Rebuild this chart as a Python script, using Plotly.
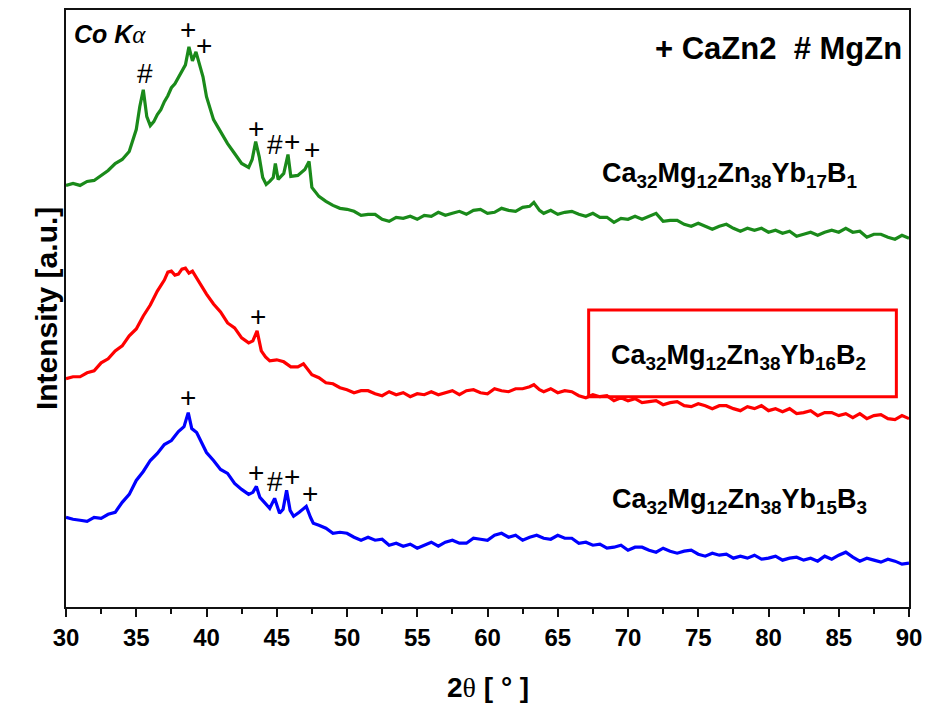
import plotly.graph_objects as go

# ---- diffraction patterns (2theta in degrees, intensity in a.u., stacked) ----
two_theta_b1 = [30.0, 30.5, 31.0, 31.5, 32.0, 32.5, 33.0, 33.5, 34.0, 34.5, 35.0, 35.25, 35.5, 35.75,
                36.0, 36.25, 36.5, 36.75, 37.0, 37.25, 37.5, 37.75, 38.0, 38.25, 38.5, 38.75, 39.0,
                39.25, 39.5, 39.75, 40.0, 40.25, 40.5, 40.75, 41.0, 41.5, 42.0, 42.5, 43.0, 43.25,
                43.5, 43.75, 44.0, 44.25, 44.5, 44.75, 44.9, 45.1, 45.5, 45.8, 46.0, 46.5, 47.0,
                47.3, 47.5, 48.0, 48.5, 49.0, 49.5, 50.0, 50.5, 51.0, 51.5, 52.0, 52.5, 53.0, 53.5,
                54.0, 54.5, 55.0, 55.5, 56.0, 56.5, 57.0, 57.5, 58.0, 58.5, 59.0, 59.5, 60.0, 60.5,
                61.0, 61.5, 62.0, 62.5, 63.0, 63.3, 63.7, 64.0, 64.5, 65.0, 65.5, 66.0, 66.5, 67.0,
                67.5, 68.0, 68.5, 69.0, 69.5, 70.0, 70.5, 71.0, 71.5, 72.0, 72.5, 73.0, 73.5, 74.0,
                74.5, 75.0, 75.5, 76.0, 76.5, 77.0, 77.5, 78.0, 78.5, 79.0, 79.5, 80.0, 80.5, 81.0,
                81.5, 82.0, 82.5, 83.0, 83.5, 84.0, 84.5, 85.0, 85.5, 86.0, 86.5, 87.0, 87.5, 88.0,
                88.5, 89.0, 89.5, 90.0]
intensity_b1 = [422, 424, 422, 426, 427, 432, 437, 444, 448, 456, 478, 501, 518, 491,
                482, 486, 493, 498, 506, 512, 520, 524, 530, 536, 543, 561, 547,
                556, 544, 531, 511, 498, 488, 482, 476, 464, 454, 444, 440, 448,
                466, 451, 430, 423, 426, 430, 444, 428, 434, 453, 431, 432, 438,
                446, 420, 411, 406, 402, 399, 398, 396, 392, 393, 393, 388, 386, 390,
                389, 391, 388, 392, 391, 395, 392, 394, 396, 393, 397, 398, 394, 395,
                399, 397, 396, 400, 401, 405, 397, 394, 397, 393, 395, 396, 393, 391,
                394, 390, 390, 385, 389, 388, 391, 388, 391, 394, 386, 387, 387, 383,
                381, 384, 381, 378, 381, 383, 379, 376, 379, 377, 379, 375, 377, 374,
                376, 371, 373, 375, 372, 375, 377, 375, 379, 375, 376, 370, 373, 373,
                370, 368, 372, 369]

two_theta_b2 = [30.0, 30.5, 31.0, 31.5, 32.0, 32.5, 33.0, 33.5, 34.0, 34.5, 35.0, 35.5, 36.0, 36.5,
                37.0, 37.25, 37.5, 37.75, 38.0, 38.25, 38.5, 38.75, 39.0, 39.25, 39.5, 39.75, 40.0,
                40.5, 41.0, 41.5, 42.0, 42.5, 43.0, 43.3, 43.6, 43.9, 44.2, 44.5, 45.0, 45.5, 46.0,
                46.5, 46.9, 47.5, 48.0, 48.5, 49.0, 49.5, 50.0, 50.5, 51.0, 51.5, 52.0, 52.5, 53.0,
                53.5, 54.0, 54.5, 55.0, 55.5, 56.0, 56.5, 57.0, 57.5, 58.0, 58.5, 59.0, 59.5, 60.0,
                60.5, 61.0, 61.5, 62.0, 62.5, 63.0, 63.3, 63.7, 64.0, 64.5, 65.0, 65.5, 66.0, 66.5,
                67.0, 67.5, 68.0, 68.5, 69.0, 69.5, 70.0, 70.5, 71.0, 71.5, 72.0, 72.5, 73.0, 73.5,
                74.0, 74.5, 75.0, 75.5, 76.0, 76.5, 77.0, 77.5, 78.0, 78.5, 79.0, 79.5, 80.0, 80.5,
                81.0, 81.5, 82.0, 82.5, 83.0, 83.5, 84.0, 84.5, 85.0, 85.5, 86.0, 86.5, 87.0, 87.5,
                88.0, 88.5, 89.0, 89.5, 90.0]
intensity_b2 = [228, 230, 230, 234, 236, 244, 248, 256, 261, 271, 278, 291, 302, 316,
                327, 335, 336, 332, 333, 338, 339, 334, 336, 330, 325, 319, 313,
                303, 295, 284, 279, 269, 264, 266, 276, 256, 250, 246, 247, 245, 240,
                240, 243, 232, 229, 224, 223, 219, 217, 214, 216, 216, 213, 211, 215,
                212, 214, 210, 213, 212, 215, 212, 214, 216, 212, 216, 217, 214, 213,
                218, 216, 215, 218, 218, 220, 222, 217, 215, 218, 214, 216, 215, 211,
                209, 212, 210, 211, 206, 209, 206, 208, 204, 205, 206, 202, 204, 205,
                201, 200, 203, 201, 198, 201, 201, 198, 196, 200, 198, 201, 196, 198,
                195, 198, 193, 194, 196, 191, 194, 194, 191, 193, 189, 193, 188, 191,
                192, 188, 187, 191, 188]

two_theta_b3 = [30.0, 30.5, 31.0, 31.5, 32.0, 32.5, 33.0, 33.5, 34.0, 34.5, 35.0, 35.5, 36.0, 36.5,
                37.0, 37.5, 38.0, 38.4, 38.7, 38.95, 39.3, 39.75, 40.0, 40.5, 41.0, 41.5, 42.0,
                42.5, 43.0, 43.3, 43.55, 43.8, 44.2, 44.5, 44.85, 45.2, 45.45, 45.7, 45.95, 46.2,
                46.6, 47.1, 47.4, 47.6, 48.0, 48.5, 49.0, 49.5, 50.0, 50.5, 51.0, 51.5, 52.0, 52.5,
                53.0, 53.5, 54.0, 54.5, 55.0, 55.5, 56.0, 56.5, 57.0, 57.5, 58.0, 58.5, 59.0, 59.5,
                60.0, 60.5, 61.0, 61.5, 62.0, 62.5, 63.0, 63.5, 64.0, 64.5, 65.0, 65.5, 66.0, 66.5,
                67.0, 67.5, 68.0, 68.5, 69.0, 69.5, 70.0, 70.5, 71.0, 71.5, 72.0, 72.5, 73.0, 73.5,
                74.0, 74.5, 75.0, 75.5, 76.0, 76.5, 77.0, 77.5, 78.0, 78.5, 79.0, 79.5, 80.0, 80.5,
                81.0, 81.5, 82.0, 82.5, 83.0, 83.5, 84.0, 84.5, 85.0, 85.5, 86.0, 86.5, 87.0, 87.5,
                88.0, 88.5, 89.0, 89.5, 90.0]
intensity_b3 = [89, 87, 86, 85, 89, 88, 92, 94, 104, 112, 126, 135, 146, 153,
                162, 166, 175, 180, 194, 178, 174, 160, 154, 146, 137, 133, 123,
                117, 112, 114, 120, 109, 103, 98, 108, 93, 97, 116, 96, 90,
                94, 100, 89, 83, 81, 78, 73, 74, 73, 69, 66, 69, 66, 67,
                61, 63, 60, 62, 58, 61, 64, 60, 64, 66, 63, 63, 68, 67,
                66, 71, 73, 69, 71, 66, 69, 71, 68, 67, 71, 68, 68, 63,
                64, 61, 62, 58, 59, 61, 56, 59, 59, 56, 54, 58, 55, 53,
                55, 56, 52, 50, 53, 51, 52, 48, 50, 48, 51, 47, 48, 50,
                46, 48, 49, 46, 48, 45, 50, 47, 51, 54, 49, 45, 48, 46,
                44, 47, 45, 42, 43]

series_colors = ["#1a8a1a", "#ff0000", "#0000ff"]

# ---- phase markers: (2theta, label height) ----
caZn2_b1 = [(38.67, 578), (39.81, 562), (43.51, 479), (46.1, 466), (47.49, 458)]
mgZn_b1 = [(35.62, 534), (44.88, 463)]
caZn2_b2 = [(43.65, 290)]
caZn2_b3 = [(38.67, 209), (43.55, 134), (46.1, 130), (47.35, 113)]
mgZn_b3 = [(44.88, 125)]

sample_labels = [
    "Ca<sub>32</sub>Mg<sub>12</sub>Zn<sub>38</sub>Yb<sub>17</sub>B<sub>1</sub>",
    "Ca<sub>32</sub>Mg<sub>12</sub>Zn<sub>38</sub>Yb<sub>16</sub>B<sub>2</sub>",
    "Ca<sub>32</sub>Mg<sub>12</sub>Zn<sub>38</sub>Yb<sub>15</sub>B<sub>3</sub>",
]
label_pos = [(77.2, 432), (77.85, 250), (77.9, 105)]

x_ticks = [30, 35, 40, 45, 50, 55, 60, 65, 70, 75, 80, 85, 90]

FONT = "Liberation Sans, Arial, sans-serif"

fig = go.Figure()
for tt, inten, col in zip([two_theta_b1, two_theta_b2, two_theta_b3],
                          [intensity_b1, intensity_b2, intensity_b3], series_colors):
    fig.add_trace(go.Scatter(x=tt, y=inten, mode="lines",
                             line=dict(color=col, width=3.2), showlegend=False,
                             hoverinfo="skip"))

annotations = []
for group, sym in [(caZn2_b1, "+"), (mgZn_b1, "#"), (caZn2_b2, "+"),
                   (caZn2_b3, "+"), (mgZn_b3, "#")]:
    for tx, ty in group:
        annotations.append(dict(x=tx, y=ty, xref="x", yref="y", text=sym, showarrow=False,
                                font=dict(family=FONT, size=28, color="black")))

for (lx, ly), txt in zip(label_pos, sample_labels):
    annotations.append(dict(x=lx, y=ly, xref="x", yref="y", text="<b>" + txt + "</b>",
                            showarrow=False, font=dict(family=FONT, size=27, color="black")))

annotations.append(dict(x=0.994, y=0.935, xref="paper", yref="paper", xanchor="right",
                        yanchor="middle",
                        text="<b>+ CaZn2  # MgZn</b>", showarrow=False,
                        font=dict(family=FONT, size=31, color="black")))
annotations.append(dict(x=0.007, y=0.96, xref="paper", yref="paper", xanchor="left",
                        yanchor="middle",
                        text="<b><i>Co K</i></b><i><span style='font-family:Liberation Serif'>α</span></i>",
                        showarrow=False, font=dict(family=FONT, size=25, color="black")))
annotations.append(dict(x=0.5, y=-0.135, xref="paper", yref="paper", yanchor="middle",
                        text="<b>2</b><span style='font-family:Liberation Serif'>θ</span><b> [ ° ]</b>",
                        showarrow=False, font=dict(family=FONT, size=28, color="black")))
annotations.append(dict(x=-0.045, y=0.5, xref="paper", yref="paper", textangle=-90,
                        text="<b>Intensity [a.u.]</b>", showarrow=False,
                        font=dict(family=FONT, size=30, color="black")))

fig.update_layout(
    width=930, height=703,
    margin=dict(l=66, r=20, t=8, b=96),
    paper_bgcolor="white", plot_bgcolor="white",
    annotations=annotations,
    shapes=[dict(type="rect", xref="x", yref="y", x0=67.2, x1=89.1, y0=210, y1=297,
                 line=dict(color="#ff0000", width=3))],
    xaxis=dict(range=[30, 90], tickvals=x_ticks, ticks="outside", ticklen=8, tickwidth=2,
               tickcolor="#111", showline=True, linewidth=2, linecolor="#111", mirror=True,
               showgrid=False, zeroline=False,
               minor=dict(dtick=2.5, tick0=30, ticks="outside", ticklen=5, tickwidth=2,
                          tickcolor="#111", showgrid=False),
               tickfont=dict(family=FONT, size=24, color="black", weight="bold")),
    yaxis=dict(range=[-1, 598], showticklabels=False, ticks="", showline=True,
               linewidth=2, linecolor="#111", mirror=True, showgrid=False, zeroline=False),
)

fig.write_html("out.html")
